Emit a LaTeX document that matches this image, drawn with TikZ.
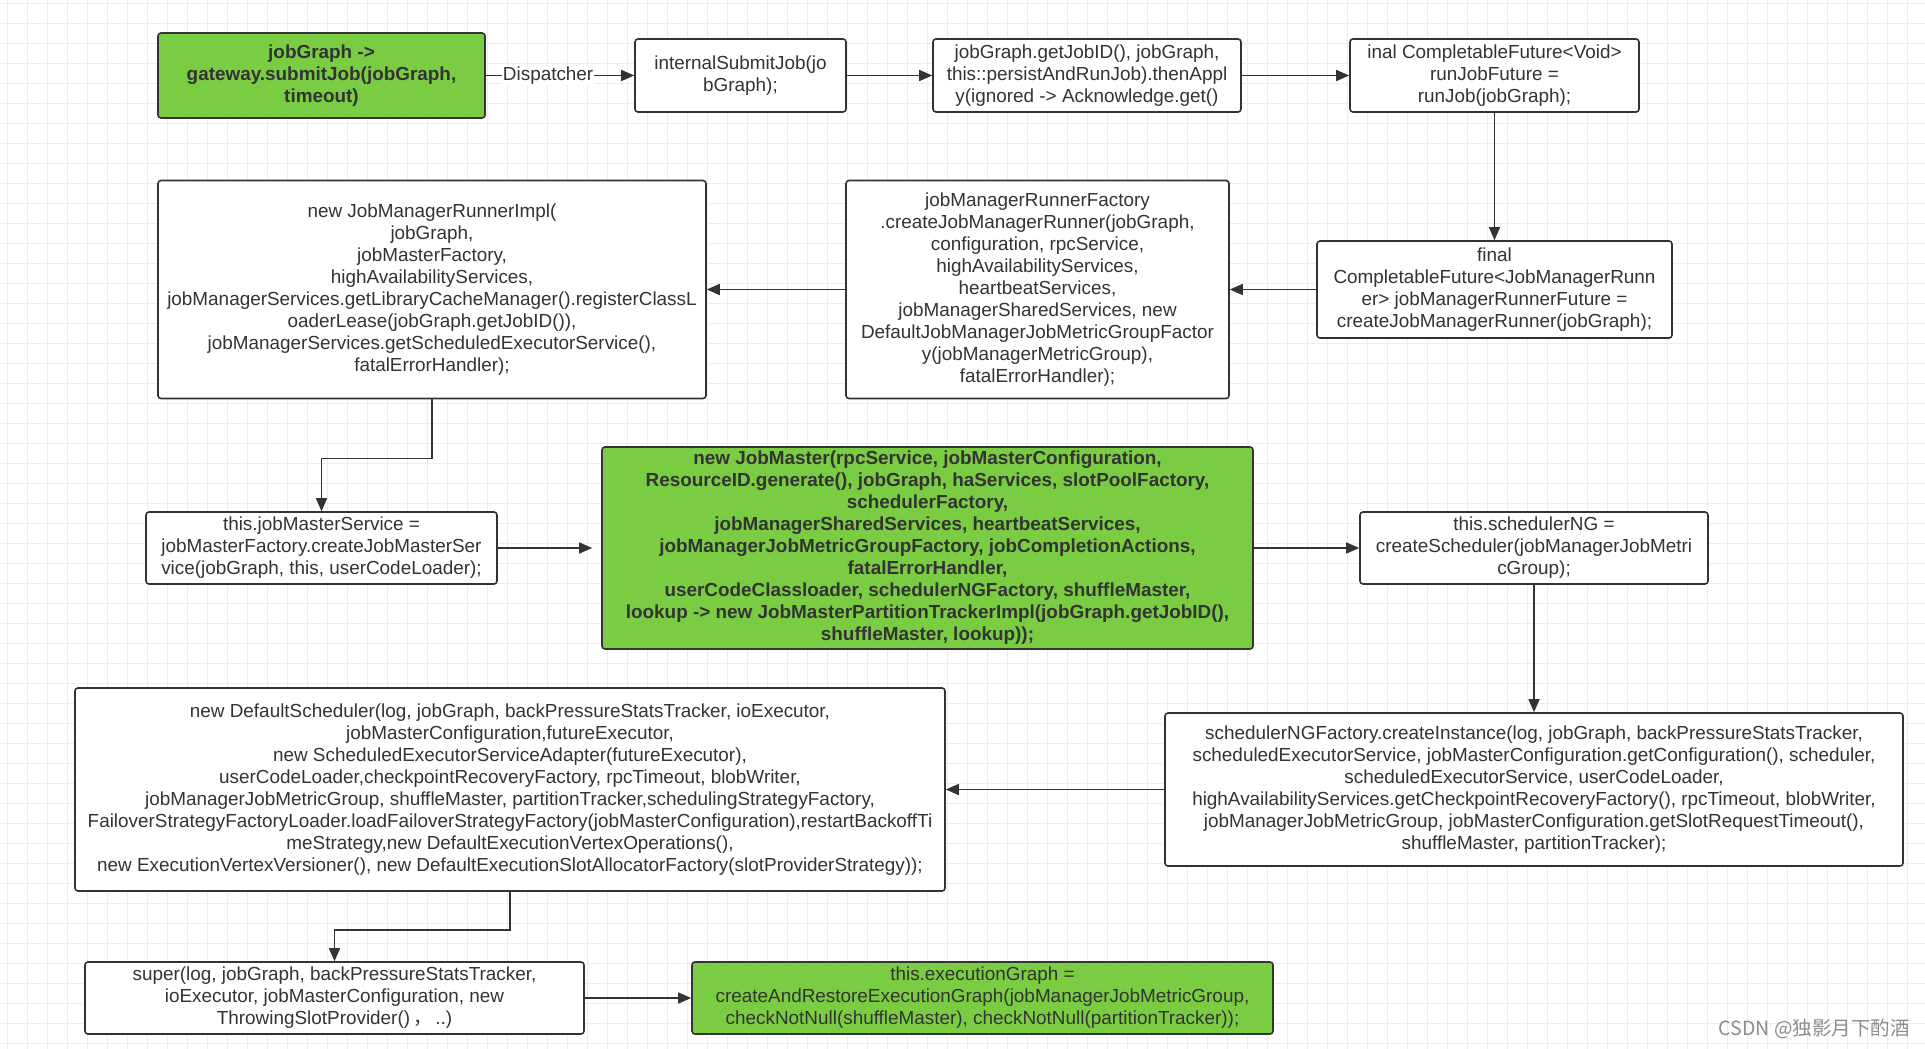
\documentclass[tikz,border=0pt]{standalone}
\usepackage{fontspec}
\setmainfont{Liberation Sans}
\newfontfamily\cjkfont{Noto Sans CJK SC}
\usetikzlibrary{arrows.meta}
\definecolor{boxline}{HTML}{333333}
\definecolor{boxgreen}{HTML}{7ACC42}
\definecolor{gridminor}{HTML}{EDEDED}
\definecolor{wmgray}{HTML}{8C8C8C}
\begin{document}
\begin{tikzpicture}[x=1pt,y=-1pt,
  box/.style={draw=boxline, line width=1.6pt, rounded corners=3pt, fill=white, text=boxline, align=center, inner sep=0pt, font=\fontsize{18.9}{22}\selectfont},
  gbox/.style={box, fill=boxgreen, font=\bfseries\fontsize{18.9}{22}\selectfont},
  arr/.style={draw=boxline, line width=1.6pt, -{Triangle[length=13pt,width=11pt]}},
  lbl/.style={fill=white, inner sep=1pt, text=boxline, font=\fontsize{18.9}{22}\selectfont},
]
\fill[white] (0,0) rectangle (1925,1049);
\useasboundingbox (0,0) rectangle (1925,1049);
\foreach \gx in {7,27,...,1925} \draw[gridminor, line width=0.8pt] (\gx,0) -- (\gx,1049);
\foreach \gy in {3,23,...,1049} \draw[gridminor, line width=0.8pt] (0,\gy) -- (1925,\gy);

\node[gbox, minimum width=327pt, minimum height=85pt] (b1) at (321.5,75.5) {jobGraph ->\\gateway.submitJob(jobGraph,\\timeout)};
\node[box, minimum width=211pt, minimum height=73pt] (b2) at (740.5,75.5) {internalSubmitJob(jo\\bGraph);};
\node[box, minimum width=308pt, minimum height=73pt] (b3) at (1087,75.5) {jobGraph.getJobID(), jobGraph,\\this::persistAndRunJob).thenAppl\\y(ignored -> Acknowledge.get()};
\node[box, minimum width=289pt, minimum height=73pt] (b4) at (1494.5,75.5) {inal CompletableFuture<Void>\\runJobFuture =\\runJob(jobGraph);};
\node[box, minimum width=355pt, minimum height=97pt] (b5) at (1494.5,289.5) {final\\CompletableFuture<JobManagerRunn\\er> jobManagerRunnerFuture =\\createJobManagerRunner(jobGraph);};
\node[box, minimum width=383pt, minimum height=218pt] (b6) at (1037.5,289.5) {jobManagerRunnerFactory\\.createJobManagerRunner(jobGraph,\\configuration, rpcService,\\highAvailabilityServices,\\heartbeatServices,\\jobManagerSharedServices, new\\DefaultJobManagerJobMetricGroupFactor\\y(jobManagerMetricGroup),\\fatalErrorHandler);};
\node[box, minimum width=548pt, minimum height=218pt] (b7) at (432,289.5) {new JobManagerRunnerImpl(\\jobGraph,\\jobMasterFactory,\\highAvailabilityServices,\\jobManagerServices.getLibraryCacheManager().registerClassL\\oaderLease(jobGraph.getJobID()),\\jobManagerServices.getScheduledExecutorService(),\\fatalErrorHandler);};
\node[box, minimum width=351pt, minimum height=72pt] (b8) at (321.5,548) {this.jobMasterService =\\jobMasterFactory.createJobMasterSer\\vice(jobGraph, this, userCodeLoader);};
\node[gbox, minimum width=651pt, minimum height=202pt] (b9) at (927.5,548) {new JobMaster(rpcService, jobMasterConfiguration,\\ResourceID.generate(), jobGraph, haServices, slotPoolFactory,\\schedulerFactory,\\jobManagerSharedServices, heartbeatServices,\\jobManagerJobMetricGroupFactory, jobCompletionActions,\\fatalErrorHandler,\\userCodeClassloader, schedulerNGFactory, shuffleMaster,\\lookup -> new JobMasterPartitionTrackerImpl(jobGraph.getJobID(),\\shuffleMaster, lookup));};
\node[box, minimum width=348pt, minimum height=72pt] (b10) at (1534,548) {this.schedulerNG =\\createScheduler(jobManagerJobMetri\\cGroup);};
\node[box, minimum width=738pt, minimum height=153pt] (b11) at (1534,789.5) {schedulerNGFactory.createInstance(log, jobGraph, backPressureStatsTracker,\\scheduledExecutorService, jobMasterConfiguration.getConfiguration(), scheduler,\\scheduledExecutorService, userCodeLoader,\\highAvailabilityServices.getCheckpointRecoveryFactory(), rpcTimeout, blobWriter,\\jobManagerJobMetricGroup, jobMasterConfiguration.getSlotRequestTimeout(),\\shuffleMaster, partitionTracker);};
\node[box, minimum width=870pt, minimum height=203pt] (b12) at (510,789.5) {new DefaultScheduler(log, jobGraph, backPressureStatsTracker, ioExecutor,\\jobMasterConfiguration,futureExecutor,\\new ScheduledExecutorServiceAdapter(futureExecutor),\\userCodeLoader,checkpointRecoveryFactory, rpcTimeout, blobWriter,\\jobManagerJobMetricGroup, shuffleMaster, partitionTracker,schedulingStrategyFactory,\\FailoverStrategyFactoryLoader.loadFailoverStrategyFactory(jobMasterConfiguration),restartBackoffTi\\meStrategy,new DefaultExecutionVertexOperations(),\\new ExecutionVertexVersioner(), new DefaultExecutionSlotAllocatorFactory(slotProviderStrategy));};
\node[box, minimum width=499pt, minimum height=72pt] (b13) at (334.5,998) {super(log, jobGraph, backPressureStatsTracker,\\ioExecutor, jobMasterConfiguration, new\\ThrowingSlotProvider()\,{\cjkfont ，}\,..)};
\node[box, fill=boxgreen, minimum width=581pt, minimum height=72pt] (b14) at (982.5,998) {this.executionGraph =\\createAndRestoreExecutionGraph(jobManagerJobMetricGroup,\\checkNotNull(shuffleMaster), checkNotNull(partitionTracker));};

\node[anchor=east, text=wmgray, inner sep=0pt, font=\cjkfont\fontsize{19.5}{22}\selectfont] (wm) at (1910,1029) {CSDN @独影月下酌酒};

\draw[arr] (b1) -- node[lbl, pos=0.42] {Dispatcher} (b2);
\draw[arr] (b2) -- (b3);
\draw[arr] (b3) -- (b4);
\draw[arr] (b4) -- (b5);
\draw[arr] (b5) -- (b6);
\draw[arr] (b6) -- (b7);
\draw[arr] (b7.south) -- ++(0,59) -| (b8.north);
\draw[arr, shorten >=9pt] (b8) -- (b9);
\draw[arr] (b9) -- (b10);
\draw[arr] (b10) -- (b11);
\draw[arr] (b11) -- (b12);
\draw[arr] (b12.south) -- ++(0,38) -| (b13.north);
\draw[arr] (b13) -- (b14);
\end{tikzpicture}
\end{document}
